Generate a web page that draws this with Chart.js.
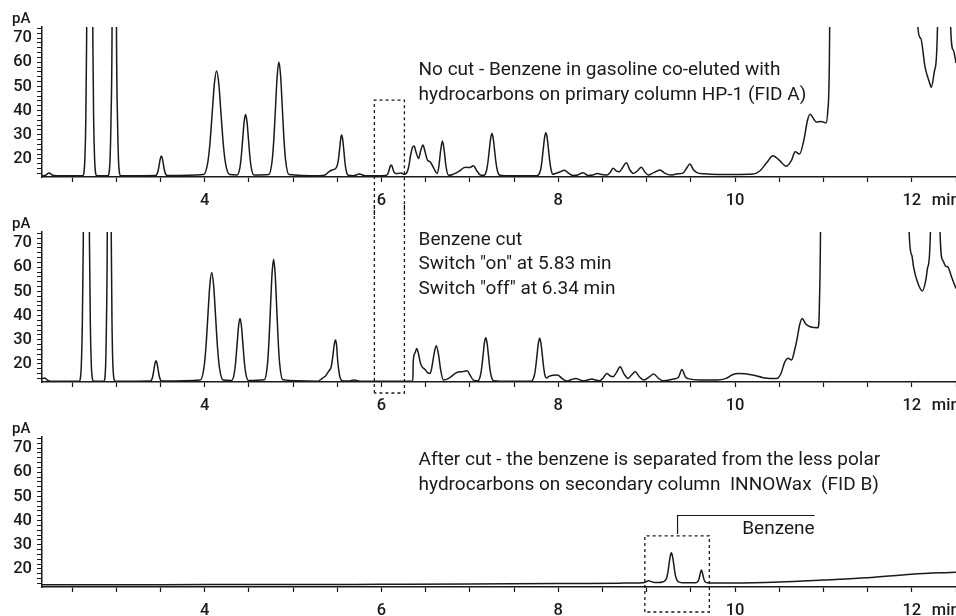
<!DOCTYPE html>
<html>
<head>
<meta charset="utf-8">
<title>Benzene heart-cut chromatograms</title>
<script src="https://cdn.jsdelivr.net/npm/chart.js@4.4.1/dist/chart.umd.min.js"></script>
<style>
  html, body { margin: 0; padding: 0; background: #fff; overflow: hidden; }
  .panel { position: absolute; left: 0; width: 956px; height: 215px; }
</style>
</head>
<body>
<div class="panel" style="top:0"><canvas id="chartA"></canvas></div>
<div class="panel" style="top:205px"><canvas id="chartB"></canvas></div>
<div class="panel" style="top:410px"><canvas id="chartC"></canvas></div>
<script>
// axis labels
const xTickLabels = [4, 6, 8, 10, 12];
const yTickLabels = [20, 30, 40, 50, 60, 70];

// FID A, no cut (time in min, signal in pA) - values above 74 are off scale
const noCutTime = [2.16, 2.20, 2.24, 2.28, 2.32,
  2.62, 2.635, 2.645, 2.655, 2.665, 2.68, 2.70, 2.72, 2.735, 2.745, 2.755, 2.765, 2.78,
  2.905, 2.92, 2.93, 2.94, 2.952, 2.965, 2.978, 2.99, 3.003, 3.015, 3.025, 3.035, 3.05,
  3.444, 3.466, 3.477, 3.488, 3.499, 3.51, 3.521, 3.532, 3.543, 3.554, 3.576,
  3.988, 4.037, 4.0615, 4.086, 4.1105, 4.135, 4.1595, 4.184, 4.2085, 4.233, 4.282,
  4.367, 4.399, 4.415, 4.431, 4.447, 4.463, 4.479, 4.495, 4.511, 4.527, 4.559,
  4.726, 4.764, 4.783, 4.802, 4.821, 4.84, 4.859, 4.878, 4.897, 4.916, 4.954,
  5.30, 5.36, 5.40, 5.44, 5.475, 5.50, 5.5125, 5.525, 5.5375, 5.55, 5.5625, 5.575, 5.5875, 5.60, 5.625,
  5.68, 5.75, 5.82, 5.95, 6.04, 6.07, 6.08, 6.09, 6.10, 6.11, 6.12, 6.13, 6.14, 6.16, 6.19, 6.22, 6.26,
  6.29, 6.31, 6.33, 6.35, 6.37, 6.39, 6.42, 6.445, 6.47, 6.49, 6.52, 6.55, 6.59, 6.63, 6.65, 6.67,
  6.69, 6.71, 6.73, 6.76, 6.80, 6.87, 6.95, 7.00, 7.04, 7.08, 7.12,
  7.16, 7.19, 7.205, 7.22, 7.235, 7.25, 7.265, 7.28, 7.295, 7.31, 7.34, 7.40, 7.74,
  7.77, 7.80, 7.815, 7.83, 7.845, 7.86, 7.875, 7.89, 7.905, 7.92, 7.94, 7.97, 8.02, 8.07, 8.12,
  8.17, 8.22, 8.28, 8.34, 8.39, 8.44, 8.50, 8.55, 8.59, 8.62, 8.66, 8.69, 8.73, 8.77, 8.81, 8.85,
  8.90, 8.94, 8.98, 9.02, 9.08, 9.15, 9.21, 9.27, 9.35, 9.41, 9.45, 9.49, 9.53, 9.57, 9.65, 9.80,
  10.00, 10.20, 10.28, 10.36, 10.43, 10.50, 10.58, 10.64, 10.68, 10.73, 10.78, 10.82, 10.85, 10.89,
  10.92, 10.97, 11.03, 11.05, 11.07, 11.09, 12.03, 12.07, 12.10, 12.15, 12.20, 12.22, 12.26, 12.29,
  12.32, 12.42, 12.44, 12.47, 12.50];
const noCutSignal = [13.0, 13.2, 14.2, 13.2, 13.0,
  13.0, 14.5, 20, 35, 70, 200, 400, 200, 70, 35, 20, 14.5, 13.0,
  13.0, 14.5, 20, 35, 70, 200, 400, 200, 70, 35, 20, 14.5, 13.0,
  13.1, 14.1, 15.7, 18.0, 20.2, 21.2, 20.2, 18.0, 15.7, 14.1, 13.1,
  13.5, 18.9, 27.1, 39.3, 51.3, 56.4, 51.3, 39.3, 27.1, 18.9, 13.5,
  13.3, 16.4, 21.3, 28.4, 35.4, 38.4, 35.4, 28.4, 21.3, 16.4, 13.3,
  13.5, 19.4, 28.3, 41.6, 54.5, 60.1, 54.5, 41.6, 28.3, 19.4, 13.5,
  13.0, 13.3, 14.5, 15.4, 15.8, 17.3, 19.5, 23.3, 27.9, 29.9, 27.9, 23.3, 18.5, 15.3, 13.2,
  13.0, 13.7, 13.0, 13.0, 13.1, 13.6, 14.5, 15.8, 17.0, 17.5, 17.0, 15.8, 14.7, 14.0, 14.0, 14.2, 13.6,
  14.5, 17, 21.5, 24.6, 25.3, 23, 20.2, 23.5, 25.7, 23.5, 19.5, 18.8, 16.3, 14.0, 17, 23.5,
  27.4, 23.5, 17, 13.2, 13.4, 14.7, 16.5, 16.4, 17.2, 15, 13.3,
  13.2, 15.4, 18.7, 23.6, 28.4, 30.5, 28.4, 23.6, 18.7, 15.4, 13.2, 13.0, 13.0,
  13.2, 15.4, 18.8, 23.8, 28.7, 30.8, 28.7, 23.8, 18.8, 15.4, 13.6, 14.0, 14.6, 15.3, 14.0,
  13.1, 13.3, 14.3, 13.1, 13.3, 13.9, 13.5, 13.3, 14.5, 16.1, 14.9, 14.7, 16.5, 18.4, 15.5, 14.0,
  15.2, 16.5, 14.6, 13.3, 14.3, 15.4, 14.0, 13.3, 13.8, 14.1, 16, 17.9, 15.5, 14.3, 13.8, 13.5,
  13.5, 13.7, 15, 18.5, 21.3, 19.5, 17, 19.5, 23, 22, 28, 36, 38.5, 36.5,
  35.3, 35.5, 34.9, 40, 70, 300, 300, 74, 70, 58, 51.6, 49.6, 57, 74,
  300, 300, 74, 65, 59.7];

// FID A, benzene cut
const cutTime = [2.16, 2.19, 2.22, 2.26,
  2.58, 2.595, 2.605, 2.615, 2.627, 2.645, 2.662, 2.68, 2.697, 2.708, 2.718, 2.728, 2.745,
  2.86, 2.872, 2.88, 2.888, 2.898, 2.91, 2.92, 2.932, 2.944, 2.953, 2.962, 2.972, 2.99,
  3.384, 3.406, 3.417, 3.428, 3.439, 3.45, 3.461, 3.472, 3.483, 3.494, 3.516,
  3.951, 3.994, 4.0155, 4.037, 4.0585, 4.08, 4.1015, 4.123, 4.1445, 4.166, 4.209,
  4.304, 4.336, 4.352, 4.368, 4.384, 4.40, 4.416, 4.432, 4.448, 4.464, 4.496,
  4.675, 4.71, 4.7275, 4.745, 4.7625, 4.78, 4.7975, 4.815, 4.8325, 4.85, 4.885,
  5.28, 5.33, 5.37, 5.40, 5.43, 5.4425, 5.455, 5.4675, 5.48, 5.4925, 5.505, 5.5175, 5.53, 5.555,
  5.60, 5.64, 5.69, 5.74, 5.80, 6.355, 6.36, 6.38, 6.40, 6.42, 6.44, 6.46, 6.49, 6.52, 6.55, 6.57,
  6.595, 6.62, 6.645, 6.67, 6.70, 6.76, 6.85, 6.92, 6.97, 7.00, 7.04,
  7.09, 7.12, 7.135, 7.15, 7.165, 7.18, 7.195, 7.21, 7.225, 7.24, 7.27, 7.35, 7.69,
  7.73, 7.745, 7.76, 7.775, 7.79, 7.805, 7.82, 7.835, 7.85, 7.87, 7.89, 7.94, 7.99, 8.05, 8.10,
  8.15, 8.20, 8.25, 8.29, 8.34, 8.38, 8.43, 8.47, 8.51, 8.55, 8.59, 8.62, 8.66, 8.70, 8.745, 8.79,
  8.83, 8.87, 8.92, 8.97, 9.03, 9.08, 9.135, 9.19, 9.30, 9.36, 9.40, 9.44, 9.47, 9.60, 9.80, 9.90,
  9.97, 10.04, 10.20, 10.32, 10.47, 10.52, 10.56, 10.60, 10.64, 10.67, 10.70, 10.73, 10.76, 10.80,
  10.85, 10.94, 10.955, 10.97, 10.99, 11.93, 11.97, 12.00, 12.02, 12.07, 12.12, 12.16, 12.18, 12.21,
  12.24, 12.30, 12.32, 12.35, 12.38, 12.41, 12.45, 12.50];
const cutSignal = [13.8, 14.2, 13.3, 12.8,
  12.8, 14.3, 19.5, 34, 70, 200, 400, 200, 70, 34, 19.5, 14.3, 12.8,
  12.8, 14.3, 19.5, 34, 70, 200, 400, 200, 70, 34, 19.5, 14.3, 12.8,
  12.9, 13.9, 15.6, 18.0, 20.3, 21.3, 20.3, 18.0, 15.6, 13.9, 12.9,
  13.3, 18.9, 27.4, 40.1, 52.5, 57.8, 52.5, 40.1, 27.4, 18.9, 13.3,
  13.1, 16.3, 21.3, 28.6, 35.7, 38.8, 35.7, 28.6, 21.3, 16.3, 13.1,
  13.4, 19.6, 29.2, 43.5, 57.3, 63.3, 57.3, 43.5, 29.2, 19.6, 13.4,
  12.8, 14, 15.1, 16.8, 18.6, 21, 24.7, 28.3, 29.9, 27.7, 21.3, 17.3, 14.6, 13.0,
  12.9, 12.9, 13.3, 12.9, 12.8, 12.8, 21.2, 24.5, 26.4, 24, 20.5, 18.8, 17.8, 16.5, 16, 18.5,
  24, 27.5, 24, 17.5, 13.3, 14, 16.4, 16.8, 17.2, 15.5, 13.3,
  13.0, 15.2, 18.6, 23.7, 28.7, 30.8, 28.7, 23.7, 18.6, 15.2, 13.0, 12.8, 12.8,
  15.2, 18.6, 23.6, 28.5, 30.6, 28.5, 23.6, 18.6, 15.2, 14.2, 14.7, 15.3, 15.4, 13.8, 12.9,
  13.5, 14, 13.3, 13, 13.4, 13.7, 13.2, 13, 14.3, 16, 15, 14.7, 16.5, 18.8, 15.8, 14,
  15.4, 16.7, 14.6, 13.3, 14.6, 15.8, 14, 13, 13.7, 14.5, 17.7, 14.5, 13.9, 13.3, 13.3, 14,
  15.5, 16, 15.4, 14.3, 13.9, 16, 20.5, 22.3, 21.6, 25, 29.9, 36, 38.8, 36.5,
  35.4, 35, 45, 90, 300, 300, 74.6, 65, 60.1, 53.3, 50.2, 55, 60, 74,
  300, 300, 74, 62.9, 60.5, 60, 56, 51.2];

// FID B, after cut
const afterCutTime = [2.16, 3.00, 4.00, 5.00, 6.00, 7.00, 8.00, 8.70, 8.96, 8.99, 9.02, 9.05, 9.09,
  9.14, 9.18, 9.20, 9.226, 9.24, 9.253, 9.267, 9.28, 9.293, 9.307, 9.32, 9.334, 9.36, 9.40,
  9.55, 9.57, 9.59, 9.605, 9.62, 9.635, 9.65, 9.67, 9.72, 10.00, 10.50, 11.00, 11.50, 12.00, 12.50];
const afterCutSignal = [13.4, 13.4, 13.5, 13.5, 13.6, 13.7, 13.9, 14.1, 14.3, 14.6, 15.1, 14.8, 14.4,
  14.4, 14.6, 14.9, 16.1, 18.4, 21.9, 25.2, 26.7, 25.2, 21.9, 18.4, 16.1, 14.6, 14.3,
  14.3, 14.4, 15.5, 17.8, 19.5, 17.8, 15.5, 14.4, 14.2, 14.2, 14.6, 15.4, 16.3, 17.8, 18.6];

const noCutNotes = ['No cut - Benzene in gasoline co-eluted with', 'hydrocarbons on primary column HP-1 (FID A)'];
const cutNotes = ['Benzene cut', 'Switch "on" at 5.83 min', 'Switch "off" at 6.34 min'];
const afterCutNotes = ['After cut - the benzene is separated from the less polar',
  'hydrocarbons on secondary column  INNOWax  (FID B)'];

const INK = '#1a1a1a';
const FONT = 'Roboto, "Liberation Sans", sans-serif';

// texts, dashed cut window and benzene bracket
const decor = {
  id: 'decor',
  afterDraw(chart, args, opts) {
    const { ctx, chartArea, scales: { x, y } } = chart;
    ctx.save();
    ctx.fillStyle = INK;
    ctx.strokeStyle = INK;
    ctx.font = '500 15px ' + FONT;
    ctx.textBaseline = 'alphabetic';
    ctx.fillText('pA', 12, 23);

    ctx.font = '500 16.5px ' + FONT;
    ctx.fillText('min', x.getPixelForValue(12) + 20, chartArea.bottom + 28);

    ctx.font = '19px ' + FONT;
    opts.notes.forEach((t, i) => {
      ctx.fillText(t, x.getPixelForValue(opts.noteX), y.getPixelForValue(opts.noteY[i]));
    });

    if (opts.box) {
      const b = opts.box;
      const left = x.getPixelForValue(b.x0), right = x.getPixelForValue(b.x1);
      const top = b.top == null ? 0 : y.getPixelForValue(b.top);
      const bottom = b.below == null ? chart.height : chartArea.bottom + b.below;
      ctx.setLineDash([3, 3]);
      ctx.lineWidth = 1.3;
      ctx.beginPath();
      ctx.moveTo(left, bottom); ctx.lineTo(left, top);
      if (b.top != null) ctx.lineTo(right, top); else ctx.moveTo(right, top);
      ctx.lineTo(right, bottom);
      if (b.below != null) ctx.lineTo(left, bottom);
      ctx.stroke();
      ctx.setLineDash([]);
    }

    if (opts.bracket) {
      const k = opts.bracket;
      const bx = x.getPixelForValue(k.x0), ex = x.getPixelForValue(k.x1);
      const hy = y.getPixelForValue(k.top);
      ctx.lineWidth = 1.2;
      ctx.beginPath();
      ctx.moveTo(bx, y.getPixelForValue(k.bottom));
      ctx.lineTo(bx, hy);
      ctx.lineTo(ex, hy);
      ctx.stroke();
      ctx.textAlign = 'right';
      ctx.fillText(k.label, ex, y.getPixelForValue(k.labelY));
    }
    ctx.restore();
  }
};

function makeChart(id, times, signal, deco) {
  const points = times.map((t, i) => ({ x: t, y: signal[i] }));
  return new Chart(document.getElementById(id), {
    type: 'line',
    data: {
      datasets: [{
        data: points,
        borderColor: INK,
        borderWidth: 1.5,
        pointRadius: 0,
        fill: false,
        cubicInterpolationMode: 'monotone'
      }]
    },
    options: {
      responsive: true,
      maintainAspectRatio: false,
      animation: false,
      events: [],
      layout: { padding: { top: 27, right: 0, left: 0, bottom: 0 } },
      plugins: {
        legend: { display: false },
        tooltip: { enabled: false },
        decor: deco
      },
      scales: {
        x: {
          type: 'linear',
          min: 2.16,
          max: 12.5,
          border: { color: INK, width: 1.5 },
          grid: { drawOnChartArea: false, drawTicks: true, tickLength: 5, tickColor: INK, tickWidth: 1.2 },
          ticks: {
            stepSize: 0.5,
            autoSkip: false,
            includeBounds: false,
            maxRotation: 0,
            padding: 9,
            color: INK,
            font: { family: FONT, size: 16.5, weight: '500' },
            callback: v => xTickLabels.includes(v) ? String(v) : ''
          },
          afterFit: s => { s.height = 38; s.paddingLeft = 0; s.paddingRight = 0; }
        },
        y: {
          min: 12.5,
          max: 74.6,
          border: { color: INK, width: 1.5 },
          grid: { drawOnChartArea: false, drawTicks: true, tickLength: 5, tickColor: INK, tickWidth: 1 },
          ticks: {
            stepSize: 2,
            autoSkip: false,
            includeBounds: false,
            padding: 5,
            color: INK,
            font: { family: FONT, size: 16.5, weight: '500' },
            callback: v => yTickLabels.includes(v) ? String(v) : ''
          },
          afterFit: s => { s.width = 42; }
        }
      }
    },
    plugins: [decor]
  });
}

makeChart('chartA', noCutTime, noCutSignal, {
  notes: noCutNotes, noteX: 6.42, noteY: [54.6, 44.3],
  box: { x0: 5.92, x1: 6.26, top: 44.3, below: null }
});
makeChart('chartB', cutTime, cutSignal, {
  notes: cutNotes, noteX: 6.42, noteY: [69.4, 59.2, 48.9],
  box: { x0: 5.92, x1: 6.26, top: null, below: 11 }
});
makeChart('chartC', afterCutTime, afterCutSignal, {
  notes: afterCutNotes, noteX: 6.42, noteY: [62.9, 52.6],
  box: { x0: 8.98, x1: 9.71, top: 33.7, below: 25 },
  bracket: { x0: 9.35, x1: 10.9, bottom: 34.4, top: 42.1, label: 'Benzene', labelY: 34.4 }
});
</script>
</body>
</html>
